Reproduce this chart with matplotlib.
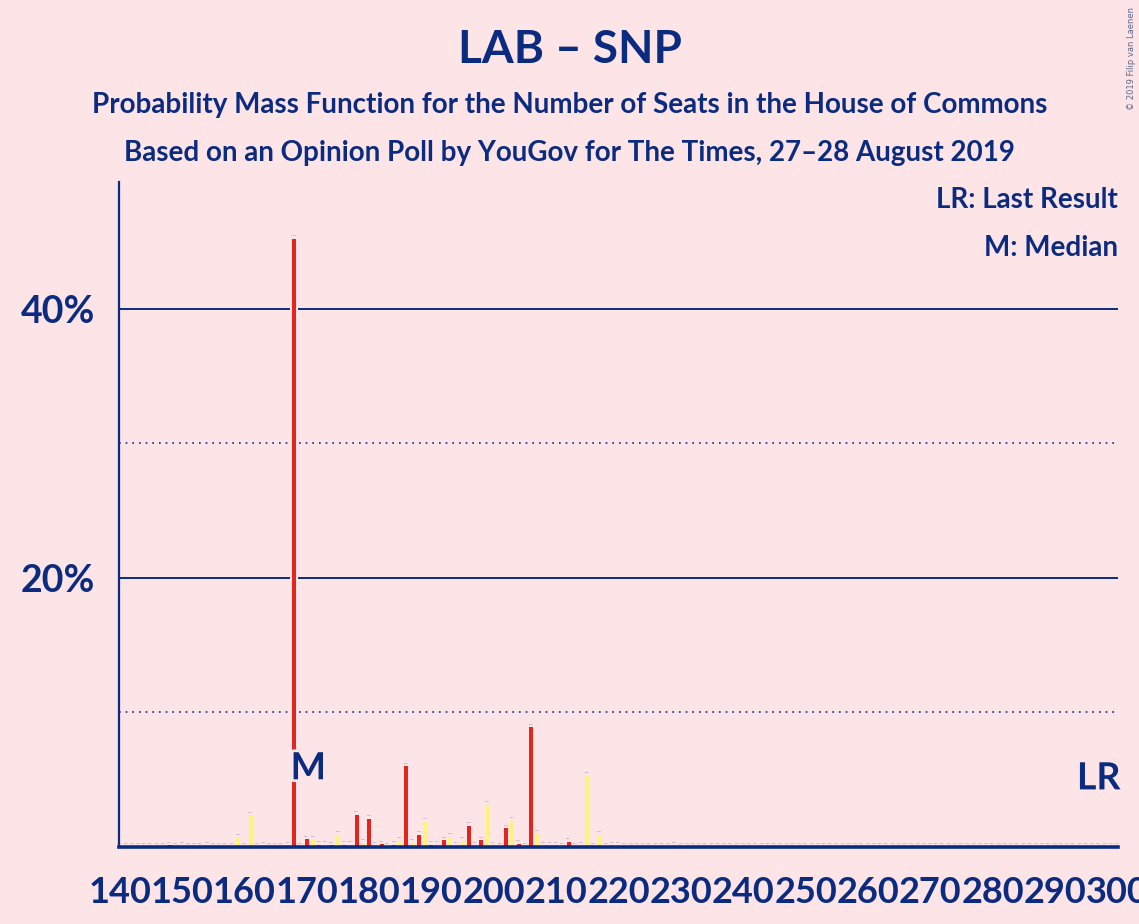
import matplotlib
matplotlib.use("Agg")
import matplotlib.pyplot as plt
import matplotlib.patheffects as pe
import numpy as np

plt.rcParams['font.family'] = ['Lato', 'DejaVu Sans']

BG = '#FDE4E7'
NAVY = '#0B2B80'
RED = '#E4251F'
YELLOW = '#FFF380'

# seats 140..300 and probability (%)
seats = list(range(140, 301))
probs = [
    0.02, 0.02, 0.02, 0.02, 0.02, 0.02, 0.05, 0.02, 0.12, 0.02,   # 140-149
    0.07, 0.05, 0.02, 0.02, 0.07, 0.02, 0.02, 0.05, 0.02, 0.67,   # 150-159
    0.02, 2.36, 0.05, 0.07, 0.03, 0.03, 0.03, 0.10, 45.2, 0.03,   # 160-169
    0.57, 0.52, 0.15, 0.15, 0.12, 0.92, 0.17, 0.15, 2.40, 0.32,   # 170-179
    2.08, 0.13, 0.20, 0.05, 0.15, 0.47, 6.00, 0.32, 0.92, 1.88,   # 180-189
    0.15, 0.17, 0.50, 0.74, 0.10, 0.45, 1.58, 0.12, 0.50, 3.15,   # 190-199
    0.10, 0.05, 1.39, 1.96, 0.25, 0.05, 8.90, 0.97, 0.10, 0.10,   # 200-209
    0.07, 0.03, 0.37, 0.05, 0.10, 5.28, 0.03, 0.89, 0.03, 0.07,   # 210-219
    0.10, 0.01, 0.01, 0.01, 0.01, 0.01, 0.01, 0.01, 0.01, 0.07,   # 220-229
    0.01, 0.01, 0.01, 0.01, 0.03, 0.01, 0.01, 0.01, 0.01, 0.01,   # 230-239
] + [0.01] * 61                                                  # 240-300
median_seat = 168
last_result = 297

fig = plt.figure(figsize=(11.39, 9.24), dpi=100, facecolor=BG)
ax = fig.add_axes([119 / 1139, 77 / 924, 999 / 1139, 665 / 924])
ax.set_facecolor(BG)
ax.set_xlim(139.9, 300.1)
ax.set_ylim(0, 49.44)

# grid
for y in (20, 40):
    ax.axhline(y, color=NAVY, lw=1.4, zorder=1)
for y in (10, 30):
    ax.axhline(y, color=NAVY, lw=1.2, ls=(0, (1, 3)), zorder=1)

colors = [RED if s % 2 == 0 else YELLOW for s in seats]
# background halo behind each bar cuts the grid lines
ax.bar(seats, [p + 0.15 for p in probs], width=1.3, color=BG, zorder=2)
ax.bar(seats, probs, width=0.64, color=colors, zorder=3)

for s, p in zip(seats, probs):
    ax.text(s, p + 0.2, f"{p:.1f}%", fontsize=1.6, color=NAVY, alpha=0.55,
            ha='center', va='bottom', zorder=4)

halo = [pe.withStroke(linewidth=4, foreground=BG)]
ax.text(median_seat + 2.25, 5.85, 'M', fontsize=27, fontweight='bold', color=NAVY,
        ha='center', va='center', zorder=5, path_effects=halo)
ax.text(last_result, 5.1, 'LR', fontsize=27, fontweight='bold', color=NAVY,
        ha='center', va='center', zorder=5, path_effects=halo)

for side in ('top', 'right'):
    ax.spines[side].set_visible(False)
ax.spines['left'].set_color(NAVY)
ax.spines['left'].set_linewidth(1.6)
ax.spines['bottom'].set_color(NAVY)
ax.spines['bottom'].set_linewidth(2.6)
ax.spines['bottom'].set_zorder(6)

ax.set_xticks(range(140, 301, 10))
ax.set_xticklabels([str(t) for t in range(140, 301, 10)], fontsize=26,
                   fontweight='bold', color=NAVY)
ax.set_yticks([20, 40])
ax.set_yticklabels(['20%', '40%'], fontsize=27, fontweight='bold', color=NAVY)
ax.tick_params(axis='x', length=0, pad=21)
ax.tick_params(axis='y', length=0, pad=17)

fig.text(0.5, 1 - 50 / 924, 'LAB – SNP', fontsize=33, fontweight='bold',
         color=NAVY, ha='center', va='center')
fig.text(0.5, 1 - 105 / 924,
         'Probability Mass Function for the Number of Seats in the House of Commons',
         fontsize=20, fontweight='bold', color=NAVY, ha='center', va='center')
fig.text(0.5, 1 - 153 / 924,
         'Based on an Opinion Poll by YouGov for The Times, 27–28 August 2019',
         fontsize=20, fontweight='bold', color=NAVY, ha='center', va='center')
fig.text(1118 / 1139, 1 - 200 / 924, 'LR: Last Result', fontsize=20,
         fontweight='bold', color=NAVY, ha='right', va='center')
fig.text(1118 / 1139, 1 - 248 / 924, 'M: Median', fontsize=20,
         fontweight='bold', color=NAVY, ha='right', va='center')
fig.text(1132 / 1139, 1 - 58 / 924, '© 2019 Filip van Laenen', fontsize=6,
         family='DejaVu Sans', color='#5A6788', rotation=90, ha='center', va='center')

fig.savefig('out.png', dpi=100, facecolor=BG)
